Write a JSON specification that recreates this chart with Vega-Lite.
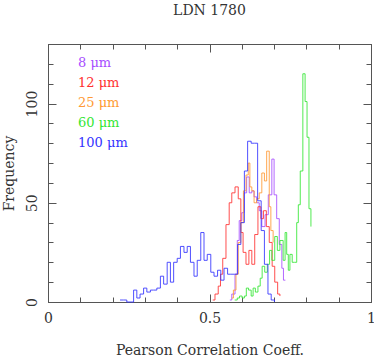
{
  "$schema": "https://vega.github.io/schema/vega-lite/v6.json",
  "width": 323,
  "height": 258,
  "autosize": {"type": "none"},
  "padding": {"left": 48, "top": 44, "right": 3, "bottom": 54},
  "background": "white",
  "title": {"text": "LDN 1780", "font": "DejaVu Serif", "fontSize": 14, "fontWeight": "normal", "color": "#333", "frame": "group", "anchor": "middle", "offset": 26},
  "config": {
    "view": {"stroke": "#555", "strokeWidth": 1},
    "axis": {"grid": false, "domainColor": "#555", "tickColor": "#555", "labelFont": "DejaVu Serif", "labelFontSize": 14, "labelColor": "#333", "titleFont": "DejaVu Serif", "titleFontSize": 14, "titleFontWeight": "normal", "titleColor": "#333", "labelFlush": false, "labelOverlap": false}
  },
  "data": {"values": [
    {"s":"8 μm","r":0.563,"n":1},{"s":"8 μm","r":0.569,"n":4},{"s":"8 μm","r":0.579,"n":14},{"s":"8 μm","r":0.586,"n":31},{"s":"8 μm","r":0.592,"n":41},{"s":"8 μm","r":0.600,"n":45},{"s":"8 μm","r":0.607,"n":55},{"s":"8 μm","r":0.615,"n":63},{"s":"8 μm","r":0.623,"n":55},{"s":"8 μm","r":0.631,"n":56},{"s":"8 μm","r":0.638,"n":53},{"s":"8 μm","r":0.646,"n":50},{"s":"8 μm","r":0.654,"n":46},{"s":"8 μm","r":0.662,"n":38},{"s":"8 μm","r":0.672,"n":44},{"s":"8 μm","r":0.682,"n":54},{"s":"8 μm","r":0.693,"n":72},{"s":"8 μm","r":0.700,"n":54},{"s":"8 μm","r":0.708,"n":42},{"s":"8 μm","r":0.716,"n":29},{"s":"8 μm","r":0.724,"n":17},{"s":"8 μm","r":0.729,"n":11},{"s":"8 μm","r":0.735,"n":11},
    {"s":"12 μm","r":0.510,"n":1},{"s":"12 μm","r":0.517,"n":4},{"s":"12 μm","r":0.527,"n":8},{"s":"12 μm","r":0.534,"n":14},{"s":"12 μm","r":0.541,"n":22},{"s":"12 μm","r":0.551,"n":39},{"s":"12 μm","r":0.561,"n":50},{"s":"12 μm","r":0.569,"n":55},{"s":"12 μm","r":0.579,"n":58},{"s":"12 μm","r":0.589,"n":52},{"s":"12 μm","r":0.597,"n":35},{"s":"12 μm","r":0.604,"n":25},{"s":"12 μm","r":0.613,"n":19},{"s":"12 μm","r":0.622,"n":26},{"s":"12 μm","r":0.631,"n":19},{"s":"12 μm","r":0.640,"n":34},{"s":"12 μm","r":0.650,"n":48},{"s":"12 μm","r":0.659,"n":42},{"s":"12 μm","r":0.667,"n":46},{"s":"12 μm","r":0.676,"n":38},{"s":"12 μm","r":0.685,"n":30},{"s":"12 μm","r":0.694,"n":18},{"s":"12 μm","r":0.702,"n":10},{"s":"12 μm","r":0.711,"n":4},{"s":"12 μm","r":0.718,"n":3},
    {"s":"25 μm","r":0.569,"n":2},{"s":"25 μm","r":0.574,"n":6},{"s":"25 μm","r":0.582,"n":14},{"s":"25 μm","r":0.589,"n":30},{"s":"25 μm","r":0.597,"n":40},{"s":"25 μm","r":0.605,"n":56},{"s":"25 μm","r":0.613,"n":64},{"s":"25 μm","r":0.620,"n":70},{"s":"25 μm","r":0.625,"n":58},{"s":"25 μm","r":0.631,"n":56},{"s":"25 μm","r":0.638,"n":50},{"s":"25 μm","r":0.646,"n":52},{"s":"25 μm","r":0.654,"n":55},{"s":"25 μm","r":0.662,"n":65},{"s":"25 μm","r":0.670,"n":61},{"s":"25 μm","r":0.677,"n":76},{"s":"25 μm","r":0.685,"n":48},{"s":"25 μm","r":0.690,"n":36},{"s":"25 μm","r":0.697,"n":30},
    {"s":"60 μm","r":0.578,"n":1},{"s":"60 μm","r":0.586,"n":2},{"s":"60 μm","r":0.593,"n":3},{"s":"60 μm","r":0.601,"n":2},{"s":"60 μm","r":0.608,"n":3},{"s":"60 μm","r":0.614,"n":7},{"s":"60 μm","r":0.621,"n":6},{"s":"60 μm","r":0.629,"n":3},{"s":"60 μm","r":0.635,"n":7},{"s":"60 μm","r":0.642,"n":5},{"s":"60 μm","r":0.650,"n":8},{"s":"60 μm","r":0.657,"n":12},{"s":"60 μm","r":0.663,"n":18},{"s":"60 μm","r":0.671,"n":15},{"s":"60 μm","r":0.679,"n":19},{"s":"60 μm","r":0.686,"n":26},{"s":"60 μm","r":0.693,"n":21},{"s":"60 μm","r":0.702,"n":33},{"s":"60 μm","r":0.710,"n":26},{"s":"60 μm","r":0.718,"n":31},{"s":"60 μm","r":0.728,"n":21},{"s":"60 μm","r":0.734,"n":35},{"s":"60 μm","r":0.739,"n":24},{"s":"60 μm","r":0.744,"n":16},{"s":"60 μm","r":0.749,"n":24},{"s":"60 μm","r":0.756,"n":20},{"s":"60 μm","r":0.763,"n":20},{"s":"60 μm","r":0.770,"n":40},{"s":"60 μm","r":0.775,"n":49},{"s":"60 μm","r":0.781,"n":66},{"s":"60 μm","r":0.789,"n":115},{"s":"60 μm","r":0.796,"n":101},{"s":"60 μm","r":0.802,"n":83},{"s":"60 μm","r":0.808,"n":47},{"s":"60 μm","r":0.814,"n":38},
    {"s":"100 μm","r":0.223,"n":1},{"s":"100 μm","r":0.233,"n":1},{"s":"100 μm","r":0.244,"n":0},{"s":"100 μm","r":0.254,"n":0},{"s":"100 μm","r":0.265,"n":6},{"s":"100 μm","r":0.275,"n":2},{"s":"100 μm","r":0.285,"n":4},{"s":"100 μm","r":0.296,"n":7},{"s":"100 μm","r":0.306,"n":5},{"s":"100 μm","r":0.317,"n":6},{"s":"100 μm","r":0.327,"n":6},{"s":"100 μm","r":0.337,"n":7},{"s":"100 μm","r":0.348,"n":13},{"s":"100 μm","r":0.358,"n":9},{"s":"100 μm","r":0.369,"n":20},{"s":"100 μm","r":0.379,"n":10},{"s":"100 μm","r":0.389,"n":20},{"s":"100 μm","r":0.400,"n":22},{"s":"100 μm","r":0.410,"n":28},{"s":"100 μm","r":0.421,"n":25},{"s":"100 μm","r":0.431,"n":28},{"s":"100 μm","r":0.441,"n":20},{"s":"100 μm","r":0.452,"n":13},{"s":"100 μm","r":0.462,"n":21},{"s":"100 μm","r":0.473,"n":35},{"s":"100 μm","r":0.483,"n":21},{"s":"100 μm","r":0.493,"n":24},{"s":"100 μm","r":0.504,"n":15},{"s":"100 μm","r":0.514,"n":13},{"s":"100 μm","r":0.525,"n":16},{"s":"100 μm","r":0.535,"n":11},{"s":"100 μm","r":0.545,"n":17},{"s":"100 μm","r":0.556,"n":14},{"s":"100 μm","r":0.566,"n":14},{"s":"100 μm","r":0.577,"n":14},{"s":"100 μm","r":0.587,"n":29},{"s":"100 μm","r":0.597,"n":40},{"s":"100 μm","r":0.608,"n":66},{"s":"100 μm","r":0.618,"n":81},{"s":"100 μm","r":0.629,"n":80},{"s":"100 μm","r":0.639,"n":80},{"s":"100 μm","r":0.649,"n":51},{"s":"100 μm","r":0.660,"n":36},{"s":"100 μm","r":0.670,"n":19},{"s":"100 μm","r":0.681,"n":4},{"s":"100 μm","r":0.691,"n":1},{"s":"100 μm","r":0.701,"n":0}
  ]},
  "layer": [
    {
      "mark": {"type": "line", "interpolate": "step-after", "strokeWidth": 1, "opacity": 0.85},
      "encoding": {
        "x": {"field": "r", "type": "quantitative", "scale": {"domain": [0, 1], "nice": false, "zero": false},
          "axis": {"orient": "bottom", "title": "Pearson Correlation Coeff.", "values": [0,0.1,0.2,0.3,0.4,0.5,0.6,0.7,0.8,0.9,1],
            "labelExpr": "datum.value == 0 ? '0' : datum.value == 0.5 ? '0.5' : datum.value == 1 ? '1' : ''",
            "tickSize": {"condition": {"test": "datum.value == 0 || datum.value == 0.5 || datum.value == 1", "value": -8}, "value": -5},
            "labelPadding": 17, "titlePadding": 15}},
        "y": {"field": "n", "type": "quantitative", "scale": {"domain": [0, 130], "nice": false},
          "axis": {"orient": "left", "title": "Frequency", "values": [0,10,20,30,40,50,60,70,80,90,100,110,120],
            "labelExpr": "datum.value == 0 ? '0' : datum.value == 50 ? '50' : datum.value == 100 ? '100' : ''",
            "tickSize": {"condition": {"test": "datum.value == 0 || datum.value == 50 || datum.value == 100", "value": -8}, "value": -5},
            "labelAngle": -90, "labelAlign": "center", "labelBaseline": "bottom", "labelPadding": 17, "titlePadding": 6}},
        "color": {"field": "s", "type": "nominal", "sort": null,
          "scale": {"domain": ["8 μm", "12 μm", "25 μm", "60 μm", "100 μm"], "range": ["#a64dff", "#ff3030", "#ff9933", "#33e633", "#3333ff"]},
          "legend": {"orient": "top-left", "title": null, "offset": 12, "symbolSize": 0, "symbolOpacity": 0, "symbolStrokeWidth": 0, "labelOffset": 5, "labelFont": "DejaVu Serif", "labelFontSize": 13, "rowPadding": 6, "labelColor": {"expr": "scale('color', datum.value)"}}}
      }
    },
    {
      "mark": {"type": "line", "interpolate": "step-after", "opacity": 0},
      "encoding": {
        "x": {"field": "r", "type": "quantitative",
          "axis": {"orient": "top", "title": null, "values": [0,0.1,0.2,0.3,0.4,0.5,0.6,0.7,0.8,0.9,1], "labels": false,
            "tickSize": {"condition": {"test": "datum.value == 0 || datum.value == 0.5 || datum.value == 1", "value": -8}, "value": -5}}},
        "y": {"field": "n", "type": "quantitative",
          "axis": {"orient": "right", "title": null, "values": [0,10,20,30,40,50,60,70,80,90,100,110,120], "labels": false,
            "tickSize": {"condition": {"test": "datum.value == 0 || datum.value == 50 || datum.value == 100", "value": -8}, "value": -5}}},
        "detail": {"field": "s"}
      }
    }
  ],
  "resolve": {"axis": {"x": "independent", "y": "independent"}}
}
